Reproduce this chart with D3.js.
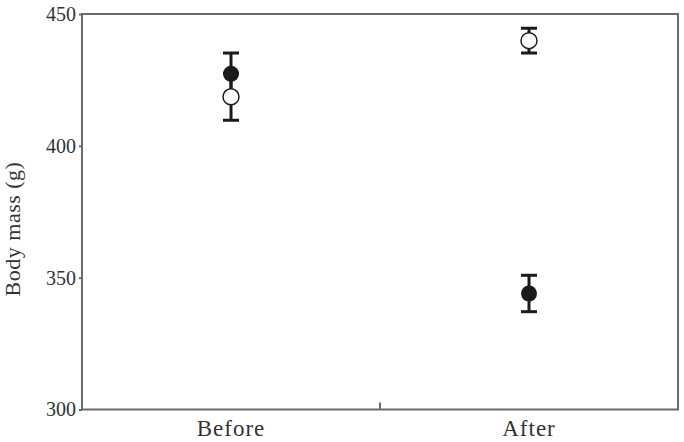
<!DOCTYPE html>
<html>
<head>
<meta charset="utf-8">
<script src="https://cdn.jsdelivr.net/npm/d3@7"></script>
<style>
  html, body { margin: 0; padding: 0; background: #fff; }
  text { font-family: "Liberation Serif", "DejaVu Serif", serif; fill: #333; }
</style>
</head>
<body>
<div id="chart"></div>
<script>
// Data
const categories = ["Before", "After"];
const filledMean = [427.3, 344.0];
const filledErr = [7.9, 6.9];
const openMean = [418.6, 439.9];
const openErr = [8.9, 4.7];
const yTicks = [300, 350, 400, 450];

const width = 684, height = 442;
const margin = {top: 14, right: 6, bottom: 32.5, left: 82};

const svg = d3.select("#chart")
  .append("svg")
  .attr("width", width)
  .attr("height", height);

const x = d3.scaleBand()
  .domain(categories)
  .range([margin.left, width - margin.right]);

const y = d3.scaleLinear()
  .domain([300, 450])
  .range([height - margin.bottom, margin.top]);

const frame = "#6a6a6a";

// frame (top and right)
svg.append("rect")
  .attr("x", margin.left)
  .attr("y", margin.top)
  .attr("width", width - margin.right - margin.left)
  .attr("height", height - margin.bottom - margin.top)
  .attr("fill", "none")
  .attr("stroke", frame)
  .attr("stroke-width", 2);

// y axis
const yAxis = svg.append("g")
  .attr("transform", `translate(${margin.left},0)`)
  .call(d3.axisLeft(y).tickValues(yTicks).tickSize(3).tickPadding(3));
yAxis.select(".domain").remove();
yAxis.selectAll("line").attr("stroke", frame).attr("stroke-width", 2);
yAxis.selectAll("text").attr("font-size", 20).attr("fill", "#333");

// x axis: tick between the categories, pointing inward
const xAxis = svg.append("g")
  .attr("transform", `translate(0,${height - margin.bottom})`);
xAxis.append("line")
  .attr("x1", (x("Before") + x("After") + x.bandwidth()) / 2)
  .attr("x2", (x("Before") + x("After") + x.bandwidth()) / 2)
  .attr("y1", 0).attr("y2", -7)
  .attr("stroke", frame).attr("stroke-width", 2);
xAxis.selectAll("text.cat")
  .data(categories)
  .join("text")
  .attr("class", "cat")
  .attr("x", d => x(d) + x.bandwidth() / 2)
  .attr("y", 26.5)
  .attr("text-anchor", "middle")
  .attr("font-size", 23)
  .attr("letter-spacing", 1)
  .text(d => d);

// y label
svg.append("text")
  .attr("transform", "translate(20,229) rotate(-90)")
  .attr("text-anchor", "middle")
  .attr("font-size", 22)
  .attr("letter-spacing", 0.5)
  .text("Body mass (g)");

const cx = d => x(d) + x.bandwidth() / 2;
const capW = 8;

function errorBars(means, errs) {
  const g = svg.append("g")
    .attr("stroke", "#1a1a1a")
    .attr("stroke-width", 3);
  categories.forEach((c, i) => {
    const top = y(means[i] + errs[i]);
    const bot = y(means[i] - errs[i]);
    g.append("line").attr("x1", cx(c)).attr("x2", cx(c)).attr("y1", top).attr("y2", bot);
    g.append("line").attr("x1", cx(c) - capW).attr("x2", cx(c) + capW).attr("y1", top).attr("y2", top);
    g.append("line").attr("x1", cx(c) - capW).attr("x2", cx(c) + capW).attr("y1", bot).attr("y2", bot);
  });
}

errorBars(filledMean, filledErr);
errorBars(openMean, openErr);

// filled markers
svg.selectAll("circle.filled")
  .data(categories)
  .join("circle")
  .attr("class", "filled")
  .attr("cx", cx)
  .attr("cy", (d, i) => y(filledMean[i]))
  .attr("r", 8)
  .attr("fill", "#1a1a1a");

// open markers
svg.selectAll("circle.open")
  .data(categories)
  .join("circle")
  .attr("class", "open")
  .attr("cx", cx)
  .attr("cy", (d, i) => y(openMean[i]))
  .attr("r", 8)
  .attr("fill", "#fff")
  .attr("stroke", "#1a1a1a")
  .attr("stroke-width", 1.5);
</script>
</body>
</html>
